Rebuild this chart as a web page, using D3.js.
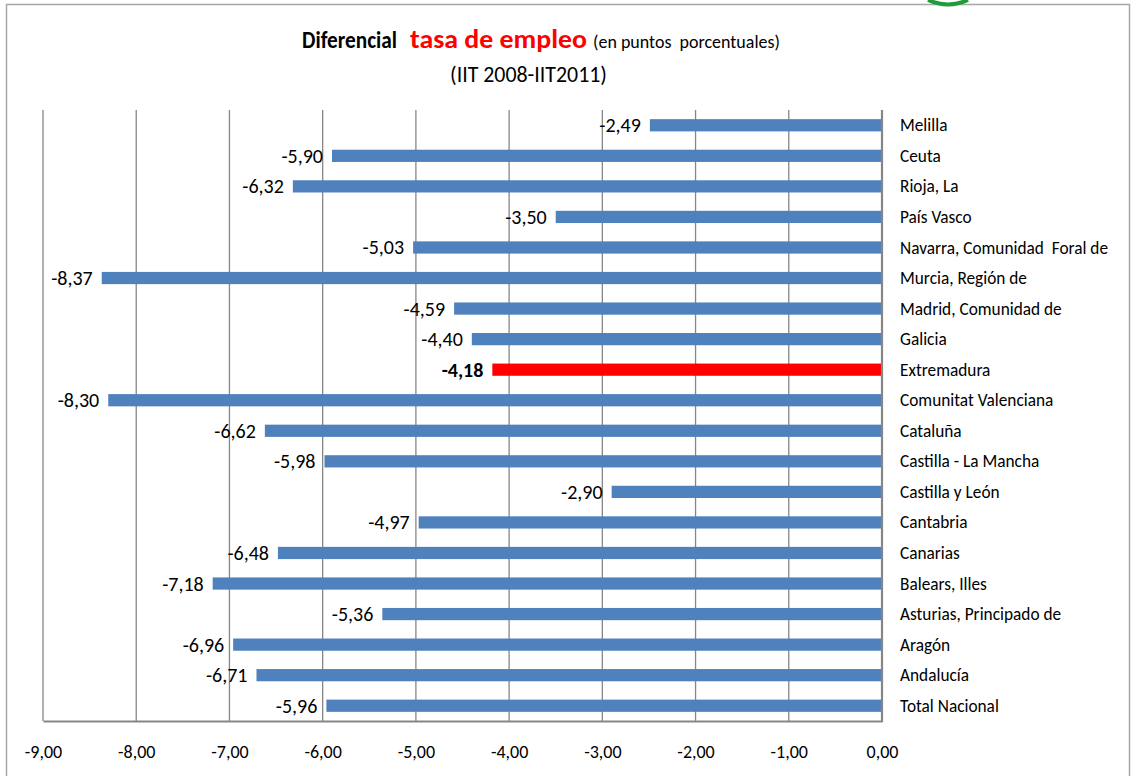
<!DOCTYPE html>
<html><head><meta charset="utf-8">
<script src="https://cdn.jsdelivr.net/npm/d3@7"></script>
<style>
body{margin:0;background:#fff;}
text{font-family:Carlito,Lato,"Liberation Sans",sans-serif;white-space:pre;}
</style></head>
<body><svg id="c" width="1133" height="776"></svg>
<script>
const categories = ["Melilla","Ceuta","Rioja, La","País Vasco","Navarra, Comunidad  Foral de","Murcia, Región de","Madrid, Comunidad de","Galicia","Extremadura","Comunitat Valenciana","Cataluña","Castilla - La Mancha","Castilla y León","Cantabria","Canarias","Balears, Illes","Asturias, Principado de","Aragón","Andalucía","Total Nacional"];
const values = [-2.49,-5.90,-6.32,-3.50,-5.03,-8.37,-4.59,-4.40,-4.18,-8.30,-6.62,-5.98,-2.90,-4.97,-6.48,-7.18,-5.36,-6.96,-6.71,-5.96];
const highlight = "Extremadura";
const tickValues = [-9,-8,-7,-6,-5,-4,-3,-2,-1,0];

const svg = d3.select("#c");
const fmt = v => d3.format(".2f")(v).replace(".", ",").replace("−","-");

// outer frame
svg.append("rect").attr("x",6.5).attr("y",4.5).attr("width",1123).attr("height",790)
  .attr("fill","none").attr("stroke","#a6a6a6").attr("stroke-width",1.5);
// logo fragment
svg.append("path").attr("d","M928,0 Q948,9 968,0").attr("fill","none").attr("stroke","#1f9b3a").attr("stroke-width",4);

const L = 43, R = 882, T = 110, B = 721;
const x = d3.scaleLinear().domain([-9,0]).range([L,R]);
const y = d3.scaleBand().domain(categories).range([T,B]).paddingInner(0.6).paddingOuter(0.3);

// gridlines
svg.append("g").selectAll("line").data(tickValues.filter(d=>d!==0)).join("line")
  .attr("x1",d=>x(d)).attr("x2",d=>x(d)).attr("y1",T).attr("y2",B)
  .attr("stroke","#868686").attr("stroke-width",1.3);

// x axis
const xa = svg.append("g").attr("transform",`translate(0,${B})`)
  .call(d3.axisBottom(x).tickValues(tickValues).tickSize(0).tickFormat(fmt).tickPadding(24));
xa.select(".domain").attr("stroke","#868686").attr("stroke-width",2);
xa.selectAll("text").attr("font-size",18).attr("fill","#000");

// bars
svg.append("g").selectAll("rect").data(categories).join("rect")
  .attr("x",(d,i)=>x(values[i])).attr("width",(d,i)=>x(0)-x(values[i]))
  .attr("y",d=>y(d)).attr("height",y.bandwidth())
  .attr("fill",d=>d===highlight?"#ff0000":"#4f81bd");

// vertical axis at 0
svg.append("line").attr("x1",x(0)).attr("x2",x(0)).attr("y1",T).attr("y2",B+1)
  .attr("stroke","#868686").attr("stroke-width",2.2);

// category labels
svg.append("g").selectAll("text").data(categories).join("text")
  .attr("x",x(0)+18).attr("y",d=>y(d)+y.bandwidth()/2).attr("dy","0.35em")
  .attr("font-size",17.3).attr("fill","#000").text(d=>d);

// value labels
svg.append("g").selectAll("text").data(categories).join("text")
  .attr("x",(d,i)=>x(values[i])-9).attr("y",d=>y(d)+y.bandwidth()/2).attr("dy","0.35em")
  .attr("text-anchor","end").attr("font-size",20)
  .attr("font-weight",d=>d===highlight?"bold":"normal").attr("fill","#000")
  .text((d,i)=>fmt(values[i]));

// title
svg.append("text").attr("x",302).attr("y",48).attr("font-size",25).attr("font-weight","bold").attr("fill","#000")
  .attr("textLength",95).attr("lengthAdjust","spacingAndGlyphs").text("Diferencial");
svg.append("text").attr("x",410).attr("y",48).attr("font-size",26).attr("font-weight","bold").attr("fill","#ff0000")
  .attr("textLength",177).attr("lengthAdjust","spacingAndGlyphs").text("tasa de empleo");
svg.append("text").attr("x",593).attr("y",48).attr("font-size",19).attr("fill","#000")
  .attr("textLength",187).attr("lengthAdjust","spacingAndGlyphs").text("(en puntos  porcentuales)");
svg.append("text").attr("x",450).attr("y",82).attr("font-size",22).attr("fill","#000")
  .attr("textLength",157).attr("lengthAdjust","spacingAndGlyphs").text("(IIT 2008-IIT2011)");
</script></body></html>
